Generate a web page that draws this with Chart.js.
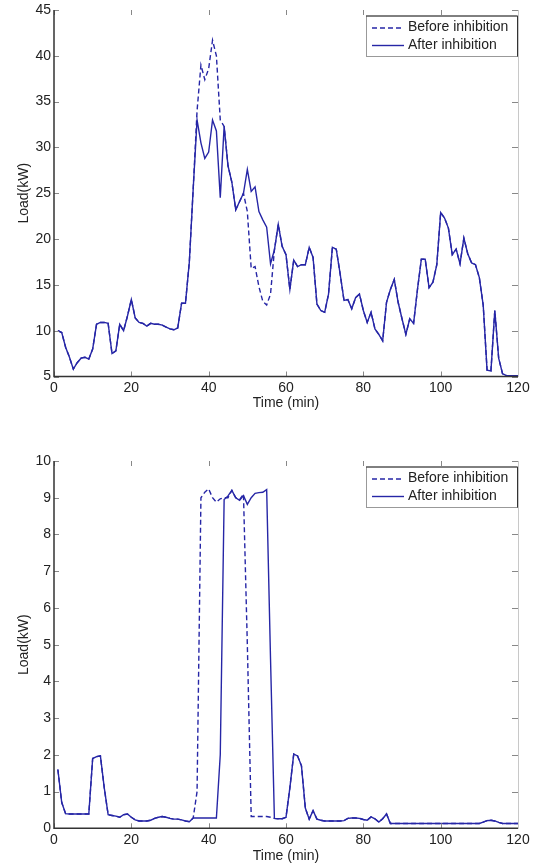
<!DOCTYPE html>
<html>
<head>
<meta charset="utf-8">
<script src="https://cdn.jsdelivr.net/npm/chart.js@4.4.0/dist/chart.umd.min.js"></script>
<style>
  html, body { margin: 0; padding: 0; background: #fff; }
  body { width: 536px; height: 865px; position: relative; overflow: hidden; }
  .box { position: absolute; left: 0; width: 536px; }
  #topBox { top: 0; height: 420px; }
  #bottomBox { top: 430px; height: 435px; }
</style>
</head>
<body>
<div class="box" id="topBox"><canvas id="topChart"></canvas></div>
<div class="box" id="bottomBox"><canvas id="bottomChart"></canvas></div>
<script>
// time axis (min)
const minutes = [
  1, 2, 3, 4, 5, 6, 7, 8, 9, 10,
  11, 12, 13, 14, 15, 16, 17, 18, 19, 20,
  21, 22, 23, 24, 25, 26, 27, 28, 29, 30,
  31, 32, 33, 34, 35, 36, 37, 38, 39, 40,
  41, 42, 43, 44, 45, 46, 47, 48, 49, 50,
  51, 52, 53, 54, 55, 56, 57, 58, 59, 60,
  61, 62, 63, 64, 65, 66, 67, 68, 69, 70,
  71, 72, 73, 74, 75, 76, 77, 78, 79, 80,
  81, 82, 83, 84, 85, 86, 87, 88, 89, 90,
  91, 92, 93, 94, 95, 96, 97, 98, 99, 100,
  101, 102, 103, 104, 105, 106, 107, 108, 109, 110,
  111, 112, 113, 114, 115, 116, 117, 118, 119, 120
];
const xTicks = [0, 20, 40, 60, 80, 100, 120];
const topYTicks = [5, 10, 15, 20, 25, 30, 35, 40, 45];
const bottomYTicks = [0, 1, 2, 3, 4, 5, 6, 7, 8, 9, 10];
const seriesNames = ['Before inhibition', 'After inhibition'];

// top chart: total load
const beforeTop = [
  10.0, 9.8, 8.2, 7.1, 5.8, 6.5, 7.0, 7.1, 6.9, 8.0,
  10.7, 10.9, 10.9, 10.8, 7.5, 7.8, 10.7, 10.0, 11.6, 13.4,
  11.4, 10.9, 10.8, 10.5, 10.8, 10.7, 10.7, 10.6, 10.4, 10.2,
  10.1, 10.3, 13.0, 13.0, 17.5, 25.5, 34.0, 39.0, 37.4, 38.6,
  41.7, 40.0, 33.0, 32.3, 28.0, 26.2, 23.2, 24.1, 25.0, 23.0,
  16.8, 17.0, 14.8, 13.2, 12.8, 14.0, 18.8, 21.6, 19.2, 18.3,
  14.5, 17.7, 17.0, 17.2, 17.2, 19.1, 18.0, 12.9, 12.2, 12.0,
  14.0, 19.1, 18.9, 16.2, 13.3, 13.4, 12.4, 13.6, 14.0, 12.2,
  10.9, 12.0, 10.2, 9.6, 8.9, 13.1, 14.5, 15.6, 13.1, 11.3,
  9.6, 11.3, 10.8, 14.5, 17.8, 17.8, 14.7, 15.3, 17.2, 22.9,
  22.3, 21.2, 18.3, 18.9, 17.3, 20.1, 18.4, 17.4, 17.2, 15.8,
  12.8, 5.7, 5.6, 12.2, 7.0, 5.3, 5.1, 5.1, 5.1, 5.1
];
const afterTop = [
  10.0, 9.8, 8.2, 7.1, 5.8, 6.5, 7.0, 7.1, 6.9, 8.0,
  10.7, 10.9, 10.9, 10.8, 7.5, 7.8, 10.7, 10.0, 11.6, 13.4,
  11.4, 10.9, 10.8, 10.5, 10.8, 10.7, 10.7, 10.6, 10.4, 10.2,
  10.1, 10.3, 13.0, 13.0, 17.5, 25.5, 33.0, 30.5, 28.8, 29.5,
  33.0, 31.8, 24.5, 32.3, 28.0, 26.2, 23.2, 24.1, 25.0, 27.6,
  25.2, 25.7, 23.0, 22.1, 21.3, 17.3, 18.8, 21.6, 19.2, 18.3,
  14.5, 17.7, 17.0, 17.2, 17.2, 19.1, 18.0, 12.9, 12.2, 12.0,
  14.0, 19.1, 18.9, 16.2, 13.3, 13.4, 12.4, 13.6, 14.0, 12.2,
  10.9, 12.0, 10.2, 9.6, 8.9, 13.1, 14.5, 15.6, 13.1, 11.3,
  9.6, 11.3, 10.8, 14.5, 17.8, 17.8, 14.7, 15.3, 17.2, 22.9,
  22.3, 21.2, 18.3, 18.9, 17.3, 20.1, 18.4, 17.4, 17.2, 15.8,
  12.8, 5.7, 5.6, 12.2, 7.0, 5.3, 5.1, 5.1, 5.1, 5.1
];

// bottom chart: inhibited appliance load
const beforeBottom = [
  1.6, 0.7, 0.4, 0.39, 0.39, 0.39, 0.39, 0.39, 0.39, 1.9,
  1.95, 1.97, 1.1, 0.37, 0.35, 0.33, 0.3, 0.37, 0.39, 0.3,
  0.23, 0.2, 0.2, 0.2, 0.22, 0.27, 0.3, 0.32, 0.3, 0.27,
  0.25, 0.25, 0.23, 0.2, 0.18, 0.28, 1.0, 9.0, 9.15, 9.24,
  9.0, 8.88, 8.97, 9.0, 9.0, 9.2, 9.0, 8.95, 9.1, 5.0,
  0.32, 0.32, 0.32, 0.32, 0.32, 0.3, 0.27, 0.26, 0.26, 0.3,
  1.1, 2.02, 1.97, 1.7, 0.55, 0.25, 0.48, 0.25, 0.22, 0.2,
  0.2, 0.2, 0.2, 0.2, 0.21, 0.27, 0.28, 0.28, 0.27, 0.24,
  0.22, 0.31, 0.26, 0.17, 0.26, 0.39, 0.13, 0.13, 0.13, 0.13,
  0.13, 0.13, 0.13, 0.13, 0.13, 0.13, 0.13, 0.13, 0.13, 0.13,
  0.13, 0.13, 0.13, 0.13, 0.13, 0.13, 0.13, 0.13, 0.13, 0.13,
  0.17, 0.21, 0.22, 0.2, 0.16, 0.13, 0.13, 0.13, 0.13, 0.13
];
const afterBottom = [
  1.6, 0.7, 0.4, 0.39, 0.39, 0.39, 0.39, 0.39, 0.39, 1.9,
  1.95, 1.97, 1.1, 0.37, 0.35, 0.33, 0.3, 0.37, 0.39, 0.3,
  0.23, 0.2, 0.2, 0.2, 0.22, 0.27, 0.3, 0.32, 0.3, 0.27,
  0.25, 0.25, 0.23, 0.2, 0.18, 0.28, 0.28, 0.28, 0.28, 0.28,
  0.28, 0.28, 2.0, 8.95, 9.05, 9.2, 9.0, 8.93, 9.06, 8.82,
  9.0, 9.12, 9.14, 9.15, 9.22, 4.6, 0.27, 0.26, 0.26, 0.3,
  1.1, 2.02, 1.97, 1.7, 0.55, 0.25, 0.48, 0.25, 0.22, 0.2,
  0.2, 0.2, 0.2, 0.2, 0.21, 0.27, 0.28, 0.28, 0.27, 0.24,
  0.22, 0.31, 0.26, 0.17, 0.26, 0.39, 0.13, 0.13, 0.13, 0.13,
  0.13, 0.13, 0.13, 0.13, 0.13, 0.13, 0.13, 0.13, 0.13, 0.13,
  0.13, 0.13, 0.13, 0.13, 0.13, 0.13, 0.13, 0.13, 0.13, 0.13,
  0.17, 0.21, 0.22, 0.2, 0.16, 0.13, 0.13, 0.13, 0.13, 0.13
];

const LINE = '#2626a6';
const FONT = "'Liberation Sans', Arial, Helvetica, sans-serif";

function points(vals) {
  return vals.map((v, i) => ({ x: minutes[i], y: v }));
}

// matlab-ish box: inward ticks on all sides + boxed legend in the corner
const matlabFrame = {
  id: 'matlabFrame',
  afterDatasetsDraw(chart) {
    const { ctx, chartArea: a } = chart;
    const x = chart.scales.x, y = chart.scales.y;
    ctx.save();
    ctx.lineWidth = 1;

    ctx.strokeStyle = '#888';
    ctx.beginPath();
    x.ticks.forEach(t => {
      const px = Math.round(x.getPixelForValue(t.value)) + 0.5;
      ctx.moveTo(px, a.bottom); ctx.lineTo(px, a.bottom - 5);
      ctx.moveTo(px, a.top); ctx.lineTo(px, a.top + 5);
    });
    y.ticks.forEach(t => {
      const py = Math.round(y.getPixelForValue(t.value)) + 0.5;
      ctx.moveTo(a.left, py); ctx.lineTo(a.left + 5, py);
      ctx.moveTo(a.right, py); ctx.lineTo(a.right - 6, py);
    });
    ctx.stroke();

    // light right edge
    ctx.strokeStyle = '#c8c8c8';
    ctx.beginPath();
    ctx.moveTo(a.right + 0.5, a.top); ctx.lineTo(a.right + 0.5, a.bottom);
    ctx.stroke();

    // dark left / bottom axes
    ctx.strokeStyle = '#333';
    ctx.lineWidth = 1.5;
    ctx.beginPath();
    ctx.moveTo(a.left, a.top); ctx.lineTo(a.left, a.bottom);
    ctx.lineTo(a.right, a.bottom);
    ctx.stroke();

    // legend
    const bx = a.right - 152, by = a.top + 5.5, bw = 151, bh = 40.5;
    ctx.fillStyle = '#fff';
    ctx.fillRect(bx, by, bw, bh);
    ctx.lineWidth = 1;
    ctx.strokeStyle = '#999';
    ctx.strokeRect(bx + 0.5, by + 0.5, bw, bh);
    ctx.strokeStyle = '#333';
    ctx.beginPath();
    ctx.moveTo(bx, by + 0.5); ctx.lineTo(bx + bw + 0.5, by + 0.5);
    ctx.lineTo(bx + bw + 0.5, by + bh + 0.5);
    ctx.stroke();

    ctx.font = '14px ' + FONT;
    ctx.textBaseline = 'middle';
    ctx.textAlign = 'left';
    const rows = [by + 12, by + 29.5];
    chart.data.datasets.forEach((ds, i) => {
      ctx.strokeStyle = ds.borderColor;
      ctx.lineWidth = 1.4;
      ctx.setLineDash(ds.borderDash || []);
      ctx.beginPath();
      ctx.moveTo(a.right - 146, rows[i] + 0.5);
      ctx.lineTo(a.right - 114, rows[i] + 0.5);
      ctx.stroke();
      ctx.setLineDash([]);
      ctx.fillStyle = '#222';
      ctx.fillText(ds.label, a.right - 110, rows[i]);
    });
    ctx.restore();
  }
};

function buildChart(id, before, after, yTicks, area) {
  return new Chart(document.getElementById(id), {
    type: 'line',
    data: {
      datasets: [
        { label: seriesNames[0], data: points(before), borderColor: LINE, borderWidth: 1.4,
          borderDash: [5, 3], pointRadius: 0, tension: 0, order: 2 },
        { label: seriesNames[1], data: points(after), borderColor: LINE, borderWidth: 1.4,
          pointRadius: 0, tension: 0, order: 1 }
      ]
    },
    options: {
      responsive: true,
      maintainAspectRatio: false,
      animation: false,
      devicePixelRatio: 1,
      layout: { padding: { top: area.top, right: 18, bottom: 0, left: 0 } },
      plugins: { legend: { display: false }, tooltip: { enabled: false } },
      scales: {
        x: {
          type: 'linear', min: 0, max: 120,
          afterBuildTicks: s => { s.ticks = xTicks.map(v => ({ value: v })); },
          afterFit: s => { s.height = area.xHeight; },
          grid: { display: false, drawTicks: false }, border: { display: false },
          ticks: { font: { family: FONT, size: 14, lineHeight: 1 }, color: '#222', padding: 4.5,
                   maxRotation: 0, autoSkip: false },
          title: { display: true, text: 'Time (min)', color: '#222',
                   font: { family: FONT, size: 14 }, padding: { top: 0, bottom: area.titlePad } }
        },
        y: {
          min: yTicks[0], max: yTicks[yTicks.length - 1],
          afterBuildTicks: s => { s.ticks = yTicks.map(v => ({ value: v })); },
          afterFit: s => { s.width = 54; },
          grid: { display: false, drawTicks: false }, border: { display: false },
          ticks: { font: { family: FONT, size: 14, lineHeight: 1 }, color: '#222', padding: 3 },
          title: { display: true, text: 'Load(kW)', color: '#222',
                   font: { family: FONT, size: 14 }, padding: { top: 15.8, bottom: 0 } }
        }
      }
    },
    plugins: [matlabFrame]
  });
}

buildChart('topChart', beforeTop, afterTop, topYTicks, { top: 7.7, xHeight: 43.5, titlePad: 8.6 });
buildChart('bottomChart', beforeBottom, afterBottom, bottomYTicks, { top: 31, xHeight: 36.7, titlePad: 0.1 });
</script>
</body>
</html>
